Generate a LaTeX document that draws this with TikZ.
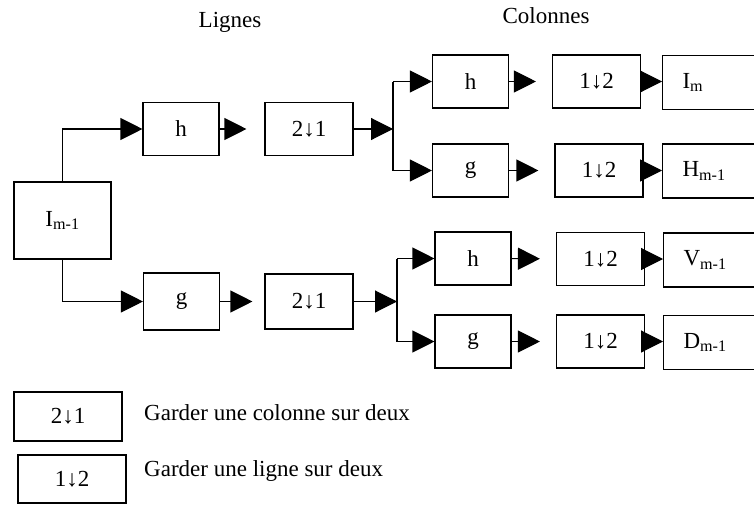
\documentclass[tikz,border=0pt]{standalone}
\usepackage{fontspec}
\setmainfont{Liberation Serif}
\usetikzlibrary{arrows.meta,positioning,calc}

\begin{document}
\begin{tikzpicture}[
    x=1pt, y=-1pt,
    font=\fontsize{23}{27}\selectfont,
    box/.style={rectangle, draw, line width=1.1pt, inner sep=0pt, align=center},
    opbox/.style={box, minimum width=76pt, minimum height=53pt},
    downbox/.style={box, minimum width=88pt, minimum height=53pt},
    outbox/.style={box, anchor=west, minimum height=54pt, text width=70pt, inner xsep=20pt, align=left},
    legendbox/.style={box, minimum width=108pt, minimum height=49pt},
    legendtext/.style={anchor=west, inner sep=0pt},
    arrow/.style={-{Triangle[length=22pt,width=22pt]}, line width=1.1pt}
]

% Frame
\useasboundingbox (0,0) rectangle (754,506);
\clip (0,0) rectangle (754,506);
\fill[white] (0,0) rectangle (754,506);

% Titles
\node (lignes) at (230,22) {Lignes};
\node (colonnes) at (546,16) {Colonnes};

% Input image
\node[box, minimum width=97pt, minimum height=77pt] (Im1) at (62.5,220.5) {I\textsubscript{m-1}};

% Filtering along the lines
\node[opbox] (hL) at (181,129) {h};
\node[opbox, minimum height=57pt] (gL) at (181.5,301.5) {g};
\node[downbox] (dcT) at (309,129) {2↓1};
\node[downbox, minimum height=55pt] (dcB) at (309,301.5) {2↓1};

% Branch points
\coordinate (brT) at (393,129);
\coordinate (brB) at (397,301.5);

% Filtering along the columns
\node[opbox] (hC1) at (470.5,81.5) {h};
\node[opbox] (gC1) at (470.5,170.5) {g};
\node[opbox] (hC2) at (473,258.5) {h};
\node[opbox] (gC2) at (473,341.5) {g};
\node[downbox] (dl1) at (596.5,81.5) {1↓2};
\node[downbox] (dl2) at (599,170.5) {1↓2};
\node[downbox] (dl3) at (600.5,259) {1↓2};
\node[downbox] (dl4) at (600.5,341.5) {1↓2};

% Outputs
\node[outbox] (Im) at (662,82.5) {I\textsubscript{m}};
\node[outbox] (Hm1) at (662,171) {H\textsubscript{m-1}};
\node[outbox] (Vm1) at (663,260) {V\textsubscript{m-1}};
\node[outbox] (Dm1) at (663,342.5) {D\textsubscript{m-1}};

% Legend
\node[legendbox] (leg1) at (68,416.5) {2↓1};
\node[legendbox, minimum height=48pt] (leg2) at (72,479) {1↓2};
\node[legendtext] (legtxt1) at (144,413) {Garder une colonne sur deux};
\node[legendtext] (legtxt2) at (144,471) {Garder une ligne sur deux};

% Arrows - lines
\draw[arrow] (Im1.north) |- (hL.west);
\draw[arrow] (Im1.south) |- (gL.west);
\draw[arrow, shorten >=18pt] (hL) -- (dcT);
\draw[arrow, shorten >=12pt] (gL) -- (dcB);
\draw[arrow] (dcT.east) -- (brT);
\draw[arrow] (dcB.east) -- (brB);

% Arrows - branches
\draw[line width=1.1pt] (brT |- hC1.west) -- (brT |- gC1.west);
\draw[line width=1.1pt] (brB |- hC2.west) -- (brB |- gC2.west);
\foreach \br/\op in {brT/hC1, brT/gC1, brB/hC2, brB/gC2}
    \draw[arrow] (\br |- \op.west) -- (\op.west);

% Arrows - columns
\foreach \op/\dl in {hC1/dl1, gC1/dl2, hC2/dl3, gC2/dl4}
    \draw[arrow, shorten >=16pt] (\op) -- (\dl);
\foreach \dl/\out in {dl1/Im, dl2/Hm1, dl3/Vm1, dl4/Dm1}
    \draw[arrow] (\dl.east) -- (\dl.east -| \out.west);

\end{tikzpicture}
\end{document}
